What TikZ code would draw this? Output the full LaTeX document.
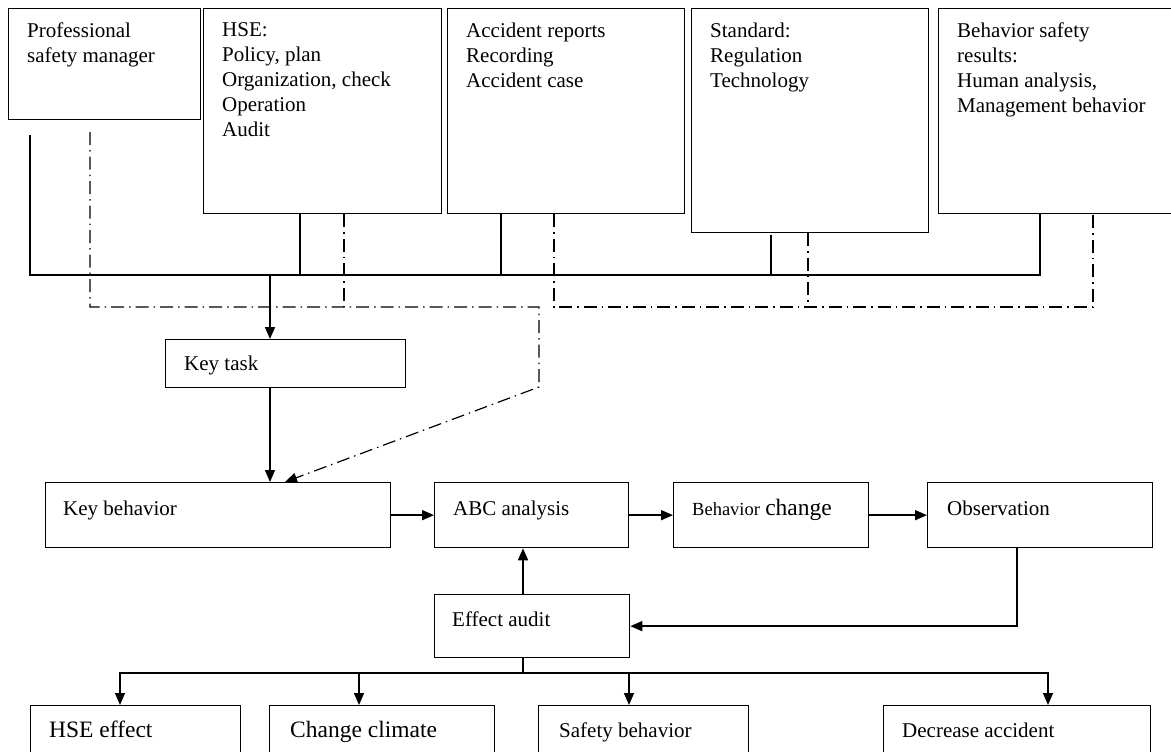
\documentclass[tikz,border=0pt]{standalone}
\usepackage{fontspec}
\setmainfont{Liberation Serif}
\usetikzlibrary{arrows.meta,positioning}
\tikzset{
  box/.style={draw, line width=1.3pt, anchor=north west, inner sep=0pt},
  txt/.style={anchor=north west, align=left, inner sep=0pt, font=\fontsize{21}{25}\selectfont},
  txtb/.style={anchor=base west, inner sep=0pt, font=\fontsize{21}{25}\selectfont},
  link/.style={line width=1.3pt},
  arr/.style={line width=1.6pt, -{Triangle[length=12pt,width=10pt]}},
  dd/.style={line width=1.2pt, dash pattern=on 13pt off 5pt on 1.5pt off 5pt},
}
\begin{document}
\begin{tikzpicture}[x=1pt, y=-1pt]
			\useasboundingbox (0,0) rectangle (1171,752);
			\clip (0,0) rectangle (1171,752);
			% sources
			\node[box, minimum width=192, minimum height=111] (psm) at (8,8) {};
			\node[box, minimum width=238, minimum height=205] (hse) at (203,8) {};
			\node[box, minimum width=237, minimum height=205] (acc) at (447,8) {};
			\node[box, minimum width=237, minimum height=224] (std) at (691,8) {};
			\node[box, minimum width=260, minimum height=205] (bsr) at (938,8) {};
			\node[txt] (psmt) at ([shift={(19,14.5)}]psm.north west) {Professional\\safety manager};
			\node[txt] (hset) at ([shift={(19,14.5)}]hse.north west) {HSE:\\Policy, plan\\Organization, check\\Operation\\Audit};
			\node[txt] (acct) at ([shift={(19,14.5)}]acc.north west) {Accident reports\\Recording\\Accident case};
			\node[txt] (stdt) at ([shift={(19,14.5)}]std.north west) {Standard:\\Regulation\\Technology};
			\node[txt] (bsrt) at ([shift={(19,14.5)}]bsr.north west) {Behavior safety\\results:\\Human analysis,\\Management behavior};
			% flow
			\node[box, minimum width=240, minimum height=48] (kt) at (165,339) {};
			\node[box, minimum width=345, minimum height=65] (kb) at (45,482) {};
			\node[box, minimum width=194, minimum height=65] (abc) at (434,482) {};
			\node[box, minimum width=195, minimum height=65] (bc) at (673,482) {};
			\node[box, minimum width=225, minimum height=65] (obs) at (927,482) {};
			\node[box, minimum width=195, minimum height=63] (ea) at (434,594) {};
			\node[txtb] (ktt) at ([shift={(19,31)}]kt.north west) {Key task};
			\node[txtb] (kbt) at ([shift={(18,33)}]kb.north west) {Key behavior};
			\node[txtb] (abct) at ([shift={(19,33)}]abc.north west) {ABC analysis};
			\node[txtb] (bct) at ([shift={(19,33)}]bc.north west) {{\fontsize{18.5}{22}\selectfont Behavior} {\fontsize{23.5}{25}\selectfont change}};
			\node[txtb] (obst) at ([shift={(20,33)}]obs.north west) {Observation};
			\node[txtb] (eat) at ([shift={(18,32)}]ea.north west) {Effect audit};
			% results
			\node[box, minimum width=210, minimum height=80] (he) at (30,705) {};
			\node[box, minimum width=225, minimum height=80] (cc) at (269,705) {};
			\node[box, minimum width=210, minimum height=80] (sb) at (538,705) {};
			\node[box, minimum width=267, minimum height=80] (da) at (883,705) {};
			\node[txtb, font=\fontsize{23.5}{25}\selectfont] (het) at ([shift={(19,32)}]he.north west) {HSE effect};
			\node[txtb, font=\fontsize{23.5}{25}\selectfont] (cct) at ([shift={(21,32)}]cc.north west) {Change climate};
			\node[txtb] (sbt) at ([shift={(21,32)}]sb.north west) {Safety behavior};
			\node[txtb] (dat) at ([shift={(19,32)}]da.north west) {Decrease accident};
			% solid bus
			\coordinate (s1) at (30,135);
			\coordinate (jS) at (270,275);
			\draw[link] (s1) |- (1040,275) -- (1040,0 |- bsr.south);
			\draw[link] (300,0 |- hse.south) -- (300,275);
			\draw[link] (501,0 |- acc.south) -- (501,275);
			\draw[link] (771,235) -- (771,275);
			\draw[arr] (jS) -- (jS |- kt.north);
			\draw[arr] (jS |- kt.south) -- (jS |- kb.north);
			% dash-dot bus
			\coordinate (d1) at (90,132);
			\draw[dd, -{Triangle[length=12pt,width=10pt]}] (d1) |- (539,307) -- (539,387) -- (285,0 |- kb.north);
			\draw[dd] (344,0 |- hse.south) -- (344,307);
			\draw[dd] (554,0 |- acc.south) |- (1093,307) -- (1093,0 |- bsr.south);
			\draw[dd] (808,0 |- std.south) -- (808,307);
			% chain
			\draw[arr] (kb.east) -- (abc.west);
			\draw[arr] (abc.east) -- (bc.west);
			\draw[arr] (bc.east) -- (obs.west);
			\coordinate (ex) at (523,0);
			\draw[arr] (ex |- ea.north) -- (ex |- abc.south);
			\draw[arr] (1017,0 |- obs.south) |- (ea.east);
			\coordinate (fork) at (523,673);
			\draw[link] (ex |- ea.south) -- (fork);
			\draw[arr] (fork) -| (120,0 |- he.north);
			\draw[arr] (fork) -| (359,0 |- cc.north);
			\draw[arr] (fork) -| (629,0 |- sb.north);
			\draw[arr] (fork) -| (1048,0 |- da.north);
		\end{tikzpicture}
\end{document}
